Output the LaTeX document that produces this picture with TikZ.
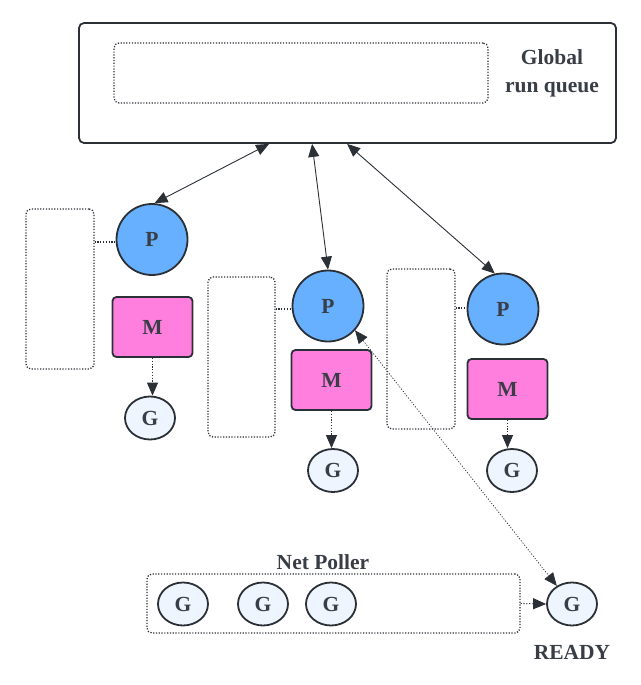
\documentclass[tikz,border=0pt]{standalone}
\usepackage{fontspec}
\setmainfont{Liberation Serif}
\usetikzlibrary{arrows.meta,shapes.geometric}
\definecolor{ink}{HTML}{2B2F36}
\definecolor{txt}{HTML}{383D46}
\definecolor{pfill}{HTML}{66B0FF}
\definecolor{mfill}{HTML}{FF7FDF}
\definecolor{gfill}{HTML}{EEF5FF}
\tikzset{
  lbl/.style={font=\fontsize{21.5}{28}\selectfont\bfseries, text=txt},
  pnode/.style={circle, draw=ink, line width=1.8pt, fill=pfill, minimum size=71pt, inner sep=0pt, lbl},
  mnode/.style={rectangle, rounded corners=4pt, draw=ink, line width=1.8pt, fill=mfill, minimum width=80pt, minimum height=60pt, inner sep=0pt, lbl},
  gnode/.style={ellipse, draw=ink, line width=1.8pt, fill=gfill, minimum width=50pt, minimum height=43pt, inner sep=0pt, lbl},
  dots/.style={dash pattern=on 1.2pt off 1.6pt},
  dotbox/.style={rectangle, rounded corners=5pt, draw=ink, line width=1.3pt, dots, inner sep=0pt},
  tip/.style={-{Triangle[length=13pt,width=11pt]}},
  dtip/.style={{Triangle[length=13pt,width=11pt]}-{Triangle[length=13pt,width=11pt]}},
  conn/.style={draw=ink, line width=0.9pt},
}
\begin{document}
\begin{tikzpicture}[x=1pt,y=-1pt]
\useasboundingbox (0,0) rectangle (640,685);
% global run queue
\node[rectangle, rounded corners=5pt, draw=ink, line width=1.8pt, minimum width=537pt, minimum height=120pt, inner sep=0pt] (gq) at (347.5,83) {};
\node[dotbox, minimum width=374pt, minimum height=60pt] (gqin) at (301,73) {};
\node[lbl, align=center] (gqt) at (552,73) {Global\\run queue};
% column 1
\node[pnode] (p1) at (152,239.5) {P};
\node[mnode] (m1) at (152.5,327) {M};
\node[gnode] (g1) at (150,418) {G};
\node[dotbox, minimum width=68pt, minimum height=160pt] (b1) at (60,289) {};
% column 2
\node[pnode] (p2) at (328,306) {P};
\node[mnode] (m2) at (331.5,380) {M};
\node[gnode] (g2) at (333,470.5) {G};
\node[dotbox, minimum width=67pt, minimum height=160pt] (b2) at (241.5,357) {};
% column 3
\node[pnode] (p3) at (503,309) {P};
\node[mnode] (m3) at (507.5,389) {M};
\node[gnode] (g3) at (512,470.5) {G};
\node[dotbox, minimum width=68pt, minimum height=160pt] (b3) at (421,349) {};
% net poller
\node[lbl] (npt) at (323,562) {Net Poller};
\node[dotbox, minimum width=373pt, minimum height=59pt] (np) at (333.5,603.5) {};
\node[gnode] (n1) at (183,604) {G};
\node[gnode] (n2) at (263,604) {G};
\node[gnode] (n3) at (331,604) {G};
\node[gnode] (gr) at (572,604) {G};
\node[lbl] (rdy) at (572,652) {READY};
% dotted links boxes -> P
\draw[conn, dots, line width=1.3pt] (b1.east |- 0,242) -- (p1.west |- 0,242);
\draw[conn, dots, line width=1.3pt] (b2.east |- 0,309) -- (p2.west |- 0,309);
\draw[conn, dots, line width=1.3pt] (b3.east |- 0,308) -- (p3.west |- 0,308);
% M -> G
\draw[conn, dots, tip] (m1.south) -- (g1.north -| m1.south);
\draw[conn, dots, tip] (m2.south) -- (g2.north -| m2.south);
\draw[conn, dots, tip] (m3.south) -- (g3.north -| m3.south);
% global <-> P
\draw[conn, dtip] ([xshift=191pt]gq.south west) -- (p1.86);
\draw[conn, dtip] ([xshift=234pt]gq.south west) -- (p2.north);
\draw[conn, dtip] ([xshift=269pt]gq.south west) -- (p3.103);
% P2 <-> ready G
\draw[conn, dots, line width=0.7pt, dtip] (p2.-42) -- (gr.130);
% net poller -> ready
\draw[conn, dots, tip] (np.east) -- (gr.west);
\end{tikzpicture}
\end{document}
